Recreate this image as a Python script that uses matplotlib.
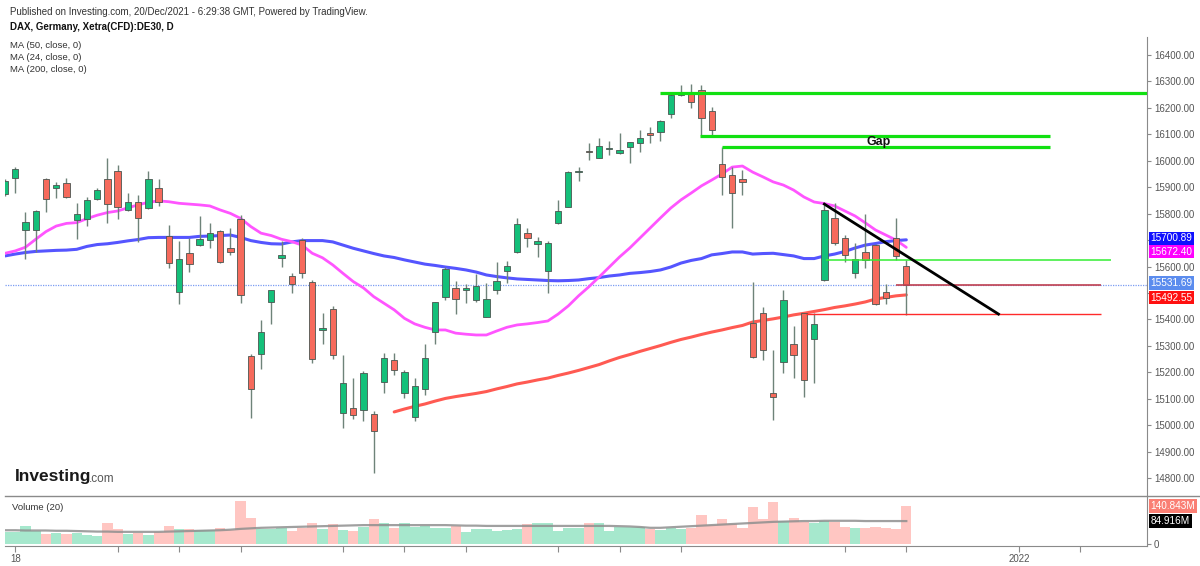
import matplotlib
matplotlib.use('Agg')
import matplotlib.pyplot as plt
import numpy as np
from matplotlib.lines import Line2D

plt.rcParams['font.family'] = ['Liberation Sans', 'DejaVu Sans']

# ---------------- data (DAX daily, 17 Aug 2021 .. 17 Dec 2021) ----------------
opens = [15873, 15935, 15738, 15738, 15932, 15898, 15915, 15775, 15781, 15857,
         15930, 15961, 15814, 15843, 15820, 15898, 15715, 15502, 15652, 15681,
         15700, 15734, 15669, 15779, 15263, 15268, 15465, 15632, 15564, 15700,
         15543, 15360, 15438, 15045, 15064, 15057, 15042, 15164, 15246, 15121,
         15030, 15136, 15353, 15484, 15520, 15511, 15473, 15410, 15511, 15583,
         15654, 15728, 15685, 15584, 15763, 15826, 15959, 16038, 16012, 16043,
         16028, 16053, 16068, 16104, 16110, 16177, 16248, 16261, 16268, 16189,
         15988, 15946, 15930, 15385, 15423, 15120, 15238, 15306, 15423, 15326,
         15549, 15782, 15707, 15574, 15654, 15681, 15505, 15707, 15603]
highs = [15930, 15975, 15807, 15815, 15935, 15920, 15936, 15839, 15862, 15898,
         16009, 15984, 15877, 15869, 15961, 15930, 15757, 15697, 15707, 15791,
         15766, 15738, 15747, 15795, 15268, 15398, 15512, 15697, 15577, 15707,
         15549, 15426, 15451, 15265, 15178, 15206, 15054, 15272, 15272, 15209,
         15180, 15306, 15467, 15600, 15546, 15533, 15572, 15537, 15618, 15621,
         15785, 15747, 15710, 15695, 15852, 15962, 15975, 16066, 16087, 16075,
         16106, 16072, 16116, 16127, 16154, 16252, 16287, 16290, 16287, 16204,
         16053, 15978, 15965, 15543, 15446, 15284, 15511, 15376, 15425, 15425,
         15833, 15839, 15719, 15690, 15797, 15685, 15533, 15785, 15625]
lows = [15868, 15877, 15627, 15656, 15805, 15860, 15858, 15704, 15754, 15852,
        15766, 15779, 15811, 15694, 15816, 15829, 15593, 15458, 15578, 15679,
        15669, 15614, 15644, 15461, 15026, 15211, 15384, 15597, 15501, 15555,
        15236, 15307, 15251, 14988, 15022, 15017, 14820, 15121, 15190, 15102,
        15017, 15114, 15307, 15473, 15420, 15461, 15467, 15408, 15496, 15537,
        15650, 15675, 15635, 15499, 15760, 15824, 15925, 16003, 16009, 16022,
        16026, 15990, 16034, 16066, 16076, 16161, 16245, 16198, 16097, 16097,
        15870, 15745, 15870, 15253, 15246, 15020, 15196, 15177, 15108, 15158,
        15547, 15681, 15618, 15555, 15593, 15454, 15457, 15625, 15418]
closes = [15925, 15968, 15770, 15810, 15855, 15908, 15862, 15797, 15852, 15889,
          15836, 15826, 15843, 15783, 15932, 15845, 15614, 15627, 15611, 15703,
          15726, 15617, 15654, 15493, 15136, 15351, 15510, 15645, 15534, 15577,
          15251, 15367, 15264, 15161, 15038, 15198, 14978, 15253, 15209, 15202,
          15149, 15253, 15465, 15591, 15477, 15518, 15526, 15476, 15546, 15602,
          15760, 15707, 15697, 15690, 15810, 15959, 15962, 16032, 16056, 16047,
          16041, 16070, 16085, 16096, 16150, 16249, 16253, 16223, 16161, 16116,
          15937, 15879, 15920, 15259, 15284, 15105, 15473, 15265, 15171, 15383,
          15814, 15688, 15644, 15627, 15625, 15457, 15480, 15640, 15531.69]
volumes_m = [44, 44, 65, 49, 38, 42, 37, 39, 34, 28,
             77, 56, 37, 39, 34, 44, 65, 57, 56, 53,
             51, 58, 51, 160, 96, 54, 54, 58, 49, 58,
             77, 54, 74, 51, 49, 62, 92, 77, 58, 77,
             62, 67, 58, 58, 67, 45, 54, 54, 49, 51,
             54, 74, 79, 79, 49, 58, 58, 77, 77, 49,
             62, 62, 62, 54, 51, 58, 54, 58, 109, 71,
             92, 74, 58, 138, 92, 156, 87, 96, 83, 79,
             87, 83, 64, 58, 58, 64, 58, 54, 140.843]
volume_ma20 = [51, 51, 50, 50, 50, 49, 49, 48, 47, 46,
               46, 45, 45, 45, 45, 45, 46, 47, 48, 49,
               50, 51, 53, 56, 58, 60, 61, 62, 63, 64,
               65, 66, 67, 68, 69, 70, 70, 70, 70, 70,
               70, 70, 70, 70, 69, 68, 68, 67, 67, 67,
               67, 67, 67, 67, 67, 67, 67, 67, 67, 67,
               66, 65, 63, 60, 60, 62, 64, 66, 68, 70,
               72, 74, 76, 78, 80, 82, 83, 84, 85, 85,
               86, 86, 86, 86, 85, 85, 85, 85, 84.916]
ma24 = [15650, 15659, 15673, 15703, 15732, 15753, 15763, 15766, 15781, 15794,
        15804, 15810, 15822, 15833, 15843, 15848, 15845, 15839, 15836, 15833,
        15829, 15814, 15801, 15782, 15751, 15726, 15717, 15703, 15694, 15681,
        15650, 15633, 15606, 15574, 15543, 15519, 15486, 15461, 15436, 15404,
        15383, 15370, 15360, 15360, 15348, 15344, 15341, 15341, 15356, 15370,
        15379, 15383, 15388, 15394, 15420, 15451, 15489, 15523, 15560, 15598,
        15636, 15670, 15708, 15746, 15784, 15821, 15852, 15878, 15905, 15927,
        15950, 15976, 15980, 15957, 15939, 15920, 15908, 15889, 15863, 15844,
        15838, 15829, 15810, 15791, 15765, 15738, 15719, 15700, 15672.40]
ma50 = [15640, 15647, 15653, 15657, 15659, 15661, 15662, 15665, 15676, 15683,
        15686, 15691, 15697, 15702, 15709, 15710, 15710, 15710, 15710, 15714,
        15715, 15717, 15719, 15710, 15698, 15691, 15686, 15685, 15693, 15698,
        15698, 15698, 15693, 15681, 15669, 15659, 15649, 15640, 15634, 15625,
        15617, 15609, 15604, 15598, 15593, 15587, 15579, 15568, 15562, 15557,
        15553, 15551, 15549, 15547, 15546, 15547, 15549, 15554, 15558, 15564,
        15568, 15574, 15577, 15581, 15587, 15598, 15613, 15623, 15630, 15644,
        15649, 15655, 15655, 15647, 15649, 15650, 15645, 15640, 15630, 15630,
        15640, 15647, 15657, 15670, 15681, 15687, 15694, 15698, 15700.89]
ma200_start = 38
ma200 = [15050, 15061, 15071, 15080, 15091, 15101, 15108, 15114, 15120, 15127,
         15137, 15146, 15156, 15163, 15171, 15178, 15188, 15197, 15207, 15218,
         15229, 15243, 15256, 15267, 15279, 15290, 15301, 15313, 15324, 15333,
         15343, 15352, 15360, 15369, 15377, 15390, 15396, 15402, 15409, 15417,
         15423, 15430, 15437, 15445, 15451, 15458, 15466, 15477, 15483, 15489,
         15492.55]

price_ticks = [14800, 14900, 15000, 15100, 15200, 15300, 15400, 15500,
               15600, 15700, 15800, 15900, 16000, 16100, 16200, 16300, 16400]
hidden_price_labels = [15500, 15700]
x_tick_pos = [1, 11, 17, 23, 33, 39, 45, 54, 60, 66, 82, 88, 99, 105]
x_tick_labels = {1: '18', 99: '2022'}

# annotation levels
top_level = 16258
gap_upper = 16095
gap_lower = 16052
support_green = 15625
level_last = 15531.69
support_red = 15420
trend_start = (80, 15836)
trend_end = (97, 15420)

# ---------------- styling ----------------
GREEN = '#14c07a'
RED = '#f66a5c'
EDGE = '#4a5550'
WICK = '#6e8379'
W, H = 1200, 566


def fx(px):
    return px / W


def fy(py):
    return 1 - py / H


fig = plt.figure(figsize=(12, 5.66), dpi=100)
fig.patch.set_facecolor('white')
ax = fig.add_axes([fx(5), fy(496), fx(1147) - fx(5), fy(37) - fy(496)])
axv = fig.add_axes([fx(5), fy(546), fx(1147) - fx(5), fy(496) - fy(546)], sharex=ax)

n = len(opens)
x = np.arange(n)
o = np.array(opens, float)
h = np.array(highs, float)
l = np.array(lows, float)
c = np.array(closes, float)
up = c >= o
mid = (o + c) / 2
bh = np.maximum(np.abs(c - o), 4.5)
bottom = mid - bh / 2
colors = np.where(up, GREEN, RED)

# MAs
ax.plot(x, ma50, color='#5555ff', lw=2.2, zorder=2, solid_capstyle='round')
ax.plot(x, ma24, color='#ff55ff', lw=2.0, zorder=2, solid_capstyle='round')
ax.plot(x[ma200_start:ma200_start + len(ma200)], ma200, color='#ff5a52', lw=2.2, zorder=2,
        solid_capstyle='round')

# candles
ax.vlines(x, l, h, color=WICK, lw=1.0, zorder=3)
ax.bar(x, bh, bottom=bottom, width=0.62, color=colors, edgecolor=EDGE, linewidth=0.6, zorder=4)

# current price dotted line
ax.axhline(level_last, color='#7b9cf2', lw=0.9, ls=(0, (1, 1)), zorder=1)

# drawings
ax.hlines(top_level, 64, 120, color='#11e011', lw=2.3, zorder=5)
ax.hlines(gap_upper, 67.9, 102, color='#11e011', lw=2.3, zorder=5)
ax.hlines(gap_lower, 70, 102, color='#11e011', lw=2.3, zorder=5)
ax.hlines(support_green, 80.2, 108, color='#33ee33', lw=1.1, zorder=5)
ax.hlines(level_last, 87, 107, color='#c04050', lw=1.2, zorder=5)
ax.hlines(support_red, 78.2, 107, color='#ff2a2a', lw=1.0, zorder=5)
ax.plot([trend_start[0], trend_end[0]], [trend_start[1], trend_end[1]], color='black', lw=2.0,
        zorder=6)
ax.text(85.3, 16071, 'Gap', fontsize=9, fontweight='bold', color='#111111', ha='center',
        va='center', zorder=7)

ax.set_xlim(0, 111.5)
ax.set_ylim(14732, 16468)

for s in ['top', 'left', 'bottom']:
    ax.spines[s].set_visible(False)
ax.spines['right'].set_color('#8a8a8a')
ax.yaxis.tick_right()
ax.set_yticks(price_ticks)
ax.set_yticklabels(['' if t in hidden_price_labels else f'{t:.2f}' for t in price_ticks])
ax.tick_params(axis='y', direction='out', length=3, width=0.8, color='#8a8a8a',
               labelsize=7, labelcolor='#555555', pad=2)
ax.tick_params(axis='x', bottom=False, labelbottom=False)


def axis_label(axis, val, text, bg, fg='white', dy=0.0):
    axis.annotate(text, xy=(1, val), xycoords=('axes fraction', 'data'),
                  xytext=(2.5, dy), textcoords='offset points', ha='left', va='center',
                  fontsize=7.2, color=fg, zorder=10, annotation_clip=False,
                  bbox=dict(boxstyle='square,pad=0.18', fc=bg, ec='none'))


axis_label(ax, ma50[-1], f'{ma50[-1]:.2f}', '#1010ff', dy=1.0)
axis_label(ax, ma24[-1], f'{ma24[-1]:.2f}', '#ff00ff', dy=-3.0)
axis_label(ax, closes[-1], f'{closes[-1]:.2f}', '#5b8cee', dy=1.0)
axis_label(ax, ma200[-1], f'{ma200[-1]:.2f}', '#ff1010', dy=-1.9)

# volume
vcol = np.where(up, '#a6e8cd', '#ffc6c2')
axv.bar(x, volumes_m, width=1.0, color=vcol, edgecolor='none', zorder=2)
axv.plot(x, volume_ma20, color='#8f8f8f', lw=1.6, alpha=0.85, zorder=3)
axv.set_ylim(-7.4, 177.8)
for s in ['top', 'left']:
    axv.spines[s].set_visible(False)
axv.spines['right'].set_color('#8a8a8a')
axv.spines['bottom'].set_color('#8a8a8a')
axv.yaxis.tick_right()
axv.set_yticks([0])
axv.set_yticklabels(['0'])
axv.tick_params(axis='y', direction='out', length=3, color='#8a8a8a', labelsize=7,
                labelcolor='#555555', pad=2)
axv.set_xticks(x_tick_pos)
axv.set_xticklabels([x_tick_labels.get(p, '') for p in x_tick_pos])
axv.tick_params(axis='x', direction='out', length=4, color='#8a8a8a', labelsize=7,
                labelcolor='#555555', pad=2)
axis_label(axv, volumes_m[-1], f'{volumes_m[-1]:.3f}M', '#fa7f74')
axis_label(axv, volume_ma20[-1], f'{volume_ma20[-1]:.3f}M', '#000000')
axv.text(0.006, 0.78, 'Volume (20)', transform=axv.transAxes, fontsize=6.8, color='#333333',
         ha='left', va='center')

# separator line between panes
fig.add_artist(Line2D([fx(5), 1], [fy(496), fy(496)], transform=fig.transFigure, color='#8a8a8a',
                      lw=1.0))

# header texts
fig.text(fx(10), fy(12), 'Published on Investing.com, 20/Dec/2021 - 6:29:38 GMT, Powered by TradingView.',
         fontsize=7, color='#333333', ha='left', va='center')
fig.text(fx(10), fy(27), 'DAX, Germany, Xetra(CFD):DE30, D', fontsize=7, fontweight='bold',
         color='#111111', ha='left', va='center')
for k, t in enumerate(['MA (50, close, 0)', 'MA (24, close, 0)', 'MA (200, close, 0)']):
    fig.text(fx(10), fy(45 + 12.5 * k), t, fontsize=6.8, color='#333333', ha='left', va='center')

# Investing.com logo
fig.text(fx(15), fy(477), 'Investing', fontsize=12.5, fontweight='bold', color='#1a1a1a',
         ha='left', va='center')
fig.text(fx(89), fy(479), '.com', fontsize=8.5, color='#555555', ha='left', va='center')

fig.savefig('out.png', dpi=100, facecolor='white')
